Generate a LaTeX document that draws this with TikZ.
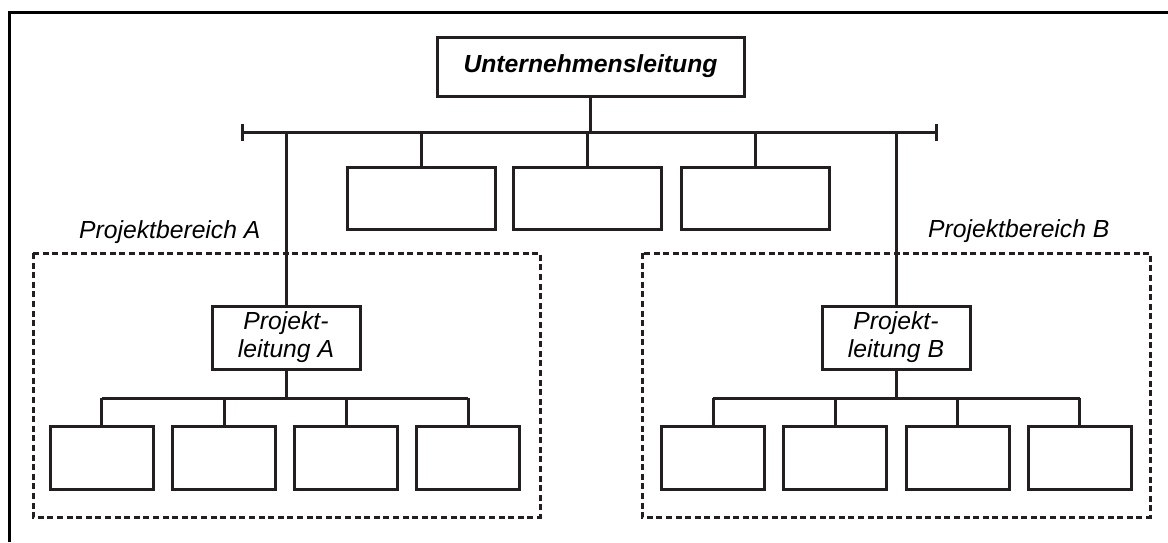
\documentclass[tikz,border=0pt]{standalone}
\usepackage{fontspec}
\setmainfont{Liberation Sans}
\begin{document}
\begin{tikzpicture}[x=1pt,y=-1pt,
  line/.style={draw=ink,line width=3pt},
  orgbox/.style={draw=ink,line width=3pt,fill=white,inner sep=0pt,align=center,
    font=\fontsize{24.7}{28}\selectfont\itshape},
  midbox/.style={orgbox,minimum width=148pt,minimum height=62pt},
  leadbox/.style={orgbox,minimum width=148pt,minimum height=63pt},
  unitbox/.style={orgbox,minimum width=103pt,minimum height=63pt},
  areabox/.style={draw=ink,line width=3pt,dash pattern=on 6pt off 3.6pt},
  arealabel/.style={inner sep=0pt,anchor=base west,font=\fontsize{24.7}{28}\selectfont\itshape},
  tick/.style={line,line cap=butt}]
\definecolor{ink}{HTML}{231F20}
\useasboundingbox (0,0) rectangle (1168,542);
\fill[white] (0,0) rectangle (1168,542);
% outer frame (top and left edges only)
\draw[line width=3pt,black] (9.5,542) -- (9.5,12) -- (1168,12);

% project areas
\draw[areabox] (33,253) rectangle (540,517);
\draw[areabox] (642,253) rectangle (1150,517);
\node[arealabel] (labA) at (79,238) {Projektbereich A};
\node[arealabel] (labB) at (928,237) {Projektbereich B};

% top management and staff boxes
\node[orgbox,minimum width=307pt,minimum height=59pt,font=\fontsize{24.7}{28}\selectfont\bfseries\itshape] (ul) at (590.5,66.5) {Unternehmensleitung};
\coordinate (barL) at (242,132.5);
\coordinate (barR) at (936,132.5);
\node[midbox] (m1) at (421,198) {};
\node[midbox] (m2) at (587.5,198) {};
\node[midbox] (m3) at (755.5,198) {};

% project leads
\node[leadbox] (pa) at (286,337.5) {Projekt-\\leitung A};
\node[leadbox] (pb) at (896,337.5) {Projekt-\\leitung B};

% units of area A
\node[unitbox] (a1) at (101.5,457.5) {};
\node[unitbox] (a2) at (224,457.5) {};
\node[unitbox] (a3) at (346,457.5) {};
\node[unitbox] (a4) at (468,457.5) {};
% units of area B
\node[unitbox] (b1) at (713,457.5) {};
\node[unitbox] (b2) at (835,457.5) {};
\node[unitbox] (b3) at (957.5,457.5) {};
\node[unitbox] (b4) at (1079.5,457.5) {};

% main bar with end ticks
\draw[line] (barL) -- (barR);
\draw[tick] ([yshift=-8.5pt]barL) -- ([yshift=8.5pt]barL);
\draw[tick] ([yshift=-8.5pt]barR) -- ([yshift=8.5pt]barR);
\draw[line] (ul.south) -- (ul.south |- barL);
\foreach \n in {m1,m2,m3}
  \draw[line] (\n.north) -- (\n.north |- barL);
\draw[line] (pa.north) -- (pa.north |- barL);
\draw[line] (pb.north) -- (pb.north |- barL);

% area A bar
\coordinate (barA) at (0,398);
\draw[line] (a1.north |- barA) -- (a4.north |- barA);
\draw[line] (pa.south) -- (pa.south |- barA);
\foreach \n in {a1,a2,a3,a4}
  \draw[line] (\n.north) -- (\n.north |- barA);

% area B bar
\draw[line] (b1.north |- barA) -- (b4.north |- barA);
\draw[line] (pb.south) -- (pb.south |- barA);
\foreach \n in {b1,b2,b3,b4}
  \draw[line] (\n.north) -- (\n.north |- barA);
\end{tikzpicture}
\end{document}
